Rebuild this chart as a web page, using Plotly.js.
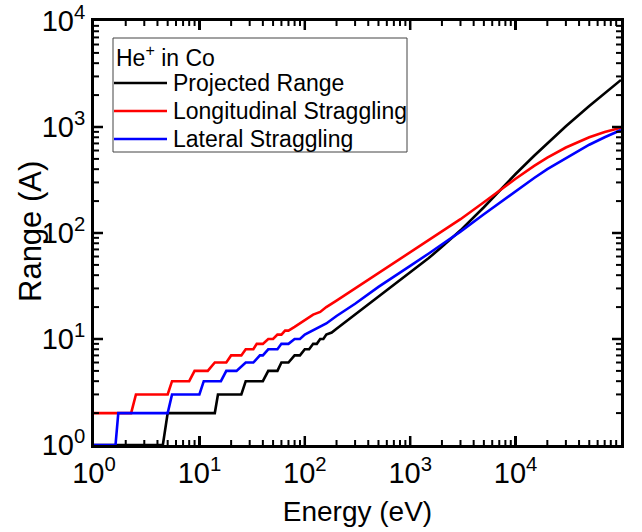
<!DOCTYPE html>
<html>
<head>
<meta charset="utf-8">
<script src="https://cdn.plot.ly/plotly-3.0.1.min.js"></script>
<style>html,body{margin:0;padding:0;background:#fff;}#chart{width:642px;height:532px;}</style>
</head>
<body>
<div id="chart"></div>
<script>
// Projected range (black)
const projE = [1, 4.5, 5, 14, 15, 25, 27.5, 40, 45, 55, 60, 70, 80, 90, 100, 110, 120, 130, 140, 150, 160, 180, 200, 300, 500, 700, 1000, 1500, 2000, 3000, 5000, 7000, 10000, 15000, 20000, 30000, 50000, 70000, 100000];
const projR = [1, 1, 2, 2, 3, 3, 4, 4, 5, 5, 6, 6, 7, 7, 8, 8, 9, 9, 10, 10, 11, 11.5, 12.5, 17, 25, 32, 42, 58, 74, 106, 175, 250, 360, 536, 704, 1018, 1580, 2075, 2780];
// Longitudinal straggling (red)
const longE = [1, 2.25, 2.5, 5, 5.5, 8, 9, 12, 14, 18, 20, 25, 27.5, 32.5, 35, 40, 45, 50, 55, 60, 65, 70, 80, 90, 100, 120, 140, 160, 200, 300, 500, 700, 1000, 1500, 2000, 3000, 5000, 7000, 10000, 15000, 20000, 30000, 50000, 70000, 100000];
const longR = [2, 2, 3, 3, 4, 4, 5, 5, 6, 6, 7, 7, 8, 8, 9, 9, 10, 10, 11, 11, 12, 12, 13, 14, 15, 17, 18, 20, 23, 30, 42, 52, 65, 85, 103, 135, 195, 250, 325, 430, 515, 640, 800, 895, 985];
// Lateral straggling (blue)
const latE = [1, 1.6, 1.7, 5, 5.5, 10, 11, 16, 18, 22.5, 27.5, 32.5, 37.5, 40, 45, 55, 60, 70, 80, 90, 100, 120, 140, 160, 200, 300, 500, 700, 1000, 1500, 2000, 3000, 5000, 7000, 10000, 15000, 20000, 30000, 50000, 70000, 100000];
const latR = [1, 1, 2, 2, 3, 3, 4, 4, 5, 5, 6, 6, 7, 7, 8, 8, 9, 9, 10, 10, 11, 12, 13, 14, 16.5, 21.5, 31, 39, 49, 64, 78, 103, 150, 192, 248, 330, 400, 505, 680, 800, 937];

const seriesNames = ['Projected Range', 'Longitudinal Straggling', 'Lateral Straggling'];
const seriesColors = ['#000000', '#ff0000', '#0000ff'];
const legendTitle = 'He<sup>+</sup> in Co';
const xTickVals = [1, 10, 100, 1000, 10000, 100000];
const xTickText = ['10<sup>0</sup>', '10<sup>1</sup>', '10<sup>2</sup>', '10<sup>3</sup>', '10<sup>4</sup>', '10<sup>5</sup>'];
const yTickVals = [1, 10, 100, 1000, 10000];
const yTickText = ['10<sup>0</sup>', '10<sup>1</sup>', '10<sup>2</sup>', '10<sup>3</sup>', '10<sup>4</sup>'];
const xRange = [0, 5];
const yRange = [0, 4];

function minorTicks(decades) {
  const out = [];
  for (let d = 0; d < decades; d++) for (let k = 2; k <= 9; k++) out.push(k * Math.pow(10, d));
  return out;
}

const FONT = 'Liberation Sans, Arial, sans-serif';
const lw = 2.6;

// plot area in pixels: x 94..621, y 21..445
const PL = 94, PR = 621, PT = 21, PB = 445;
const W = PR - PL, H = PB - PT;
const px2x = p => (p - PL) / W;
const py2y = p => (PB - p) / H;
const xFrac = v => (Math.log10(v) - xRange[0]) / (xRange[1] - xRange[0]);
const yFrac = v => (Math.log10(v) - yRange[0]) / (yRange[1] - yRange[0]);

const series = [[projE, projR], [longE, longR], [latE, latR]];
const traces = series.map((s, i) => ({
  x: s[0], y: s[1], name: seriesNames[i], mode: 'lines', showlegend: false,
  line: {color: seriesColors[i], width: lw}
}));

// inside tick marks on all four sides, drawn on a 0..1 overlay frame
function tickTrace(xv, yv, len, width) {
  const tx = [], ty = [];
  xv.forEach(v => {
    const f = xFrac(v);
    tx.push(f, f, null, f, f, null);
    ty.push(0, len / H, null, 1, 1 - len / H, null);
  });
  yv.forEach(v => {
    const f = yFrac(v);
    tx.push(0, len / W, null, 1, 1 - len / W, null);
    ty.push(f, f, null, f, f, null);
  });
  return {x: tx, y: ty, xaxis: 'x2', yaxis: 'y2', mode: 'lines', showlegend: false, hoverinfo: 'skip',
    connectgaps: false, line: {color: '#000', width: width}};
}
traces.push(tickTrace(xTickVals.slice(1, -1), yTickVals.slice(1, -1), 9, 2.5));
traces.push(tickTrace(minorTicks(5), minorTicks(4), 5, 2));

const axisCommon = {
  type: 'log',
  showgrid: false,
  zeroline: false,
  showline: true,
  linecolor: '#000',
  linewidth: 3,
  mirror: 'allticks',
  ticks: 'inside',
  ticklen: 9,
  tickwidth: 2.5,
  tickcolor: '#000',
  tickfont: {family: FONT, size: 29, color: '#000'},
  tickmode: 'array'
};

// legend drawn as shapes + annotations
const legRows = [83, 111, 139];
const shapes = [{
  type: 'rect', xref: 'paper', yref: 'paper',
  x0: px2x(113), x1: px2x(407), y0: py2y(152), y1: py2y(38),
  line: {color: '#444', width: 1}, fillcolor: '#fff', layer: 'above'
}];
const annotations = [{
  xref: 'paper', yref: 'paper', x: px2x(114), y: py2y(56), xanchor: 'left', yanchor: 'middle',
  text: legendTitle, showarrow: false, font: {family: FONT, size: 23, color: '#000'}
}];
legRows.forEach((r, i) => {
  shapes.push({type: 'line', xref: 'paper', yref: 'paper', x0: px2x(114), x1: px2x(167), y0: py2y(r), y1: py2y(r),
    line: {color: seriesColors[i], width: lw}, layer: 'above'});
  annotations.push({xref: 'paper', yref: 'paper', x: px2x(171), y: py2y(r), xanchor: 'left', yanchor: 'middle',
    text: seriesNames[i], showarrow: false, font: {family: FONT, size: 23, color: '#000'}});
});
annotations.push({
  xref: 'paper', yref: 'paper', x: px2x(30), y: py2y(232), xanchor: 'center', yanchor: 'middle',
  text: 'Range (A)', textangle: -90, showarrow: false, font: {family: FONT, size: 31, color: '#000'}
});

const layout = {
  width: 642, height: 532,
  margin: {l: PL, r: 642 - PR, t: PT, b: 532 - PB},
  paper_bgcolor: '#fff', plot_bgcolor: '#fff',
  font: {family: FONT, color: '#000'},
  showlegend: false,
  shapes: shapes,
  annotations: annotations,
  xaxis: Object.assign({}, axisCommon, {
    range: xRange, tickvals: xTickVals, ticktext: xTickText,
    title: {text: 'Energy (eV)', font: {family: FONT, size: 28, color: '#000'}, standoff: 14}
  }),
  yaxis: Object.assign({}, axisCommon, {
    range: yRange, tickvals: yTickVals, ticktext: yTickText
  }),
  xaxis2: {overlaying: 'x', anchor: 'y2', range: [0, 1], visible: false, fixedrange: true},
  yaxis2: {overlaying: 'y', anchor: 'x2', range: [0, 1], visible: false, fixedrange: true}
};

Plotly.newPlot('chart', traces, layout, {displayModeBar: false, staticPlot: true});
</script>
</body>
</html>
